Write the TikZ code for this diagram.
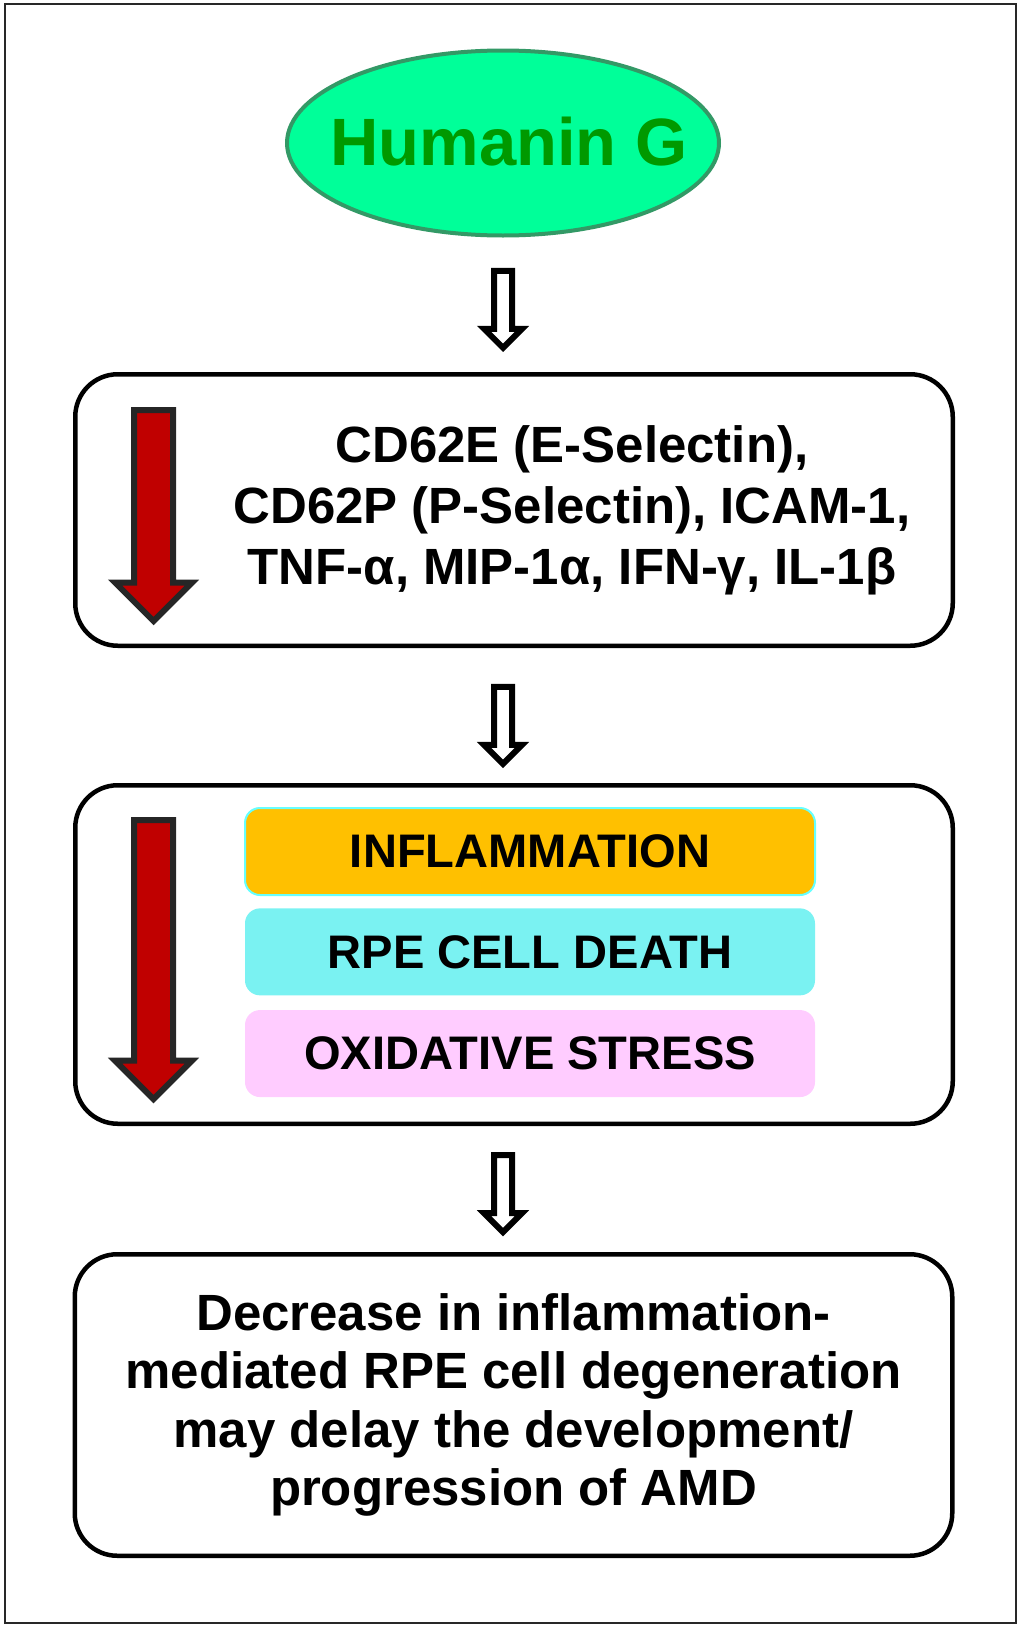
\documentclass[tikz,border=0pt]{standalone}
\usepackage{fontspec}
\setmainfont{Liberation Sans}
\usepackage{xcolor}
\usetikzlibrary{shapes.geometric, shapes.arrows, positioning}
\definecolor{hgfill}{RGB}{0,255,153}
\definecolor{hgline}{RGB}{51,153,102}
\definecolor{hgtext}{RGB}{0,153,0}
\definecolor{downred}{RGB}{192,0,0}
\definecolor{downline}{RGB}{38,38,38}
\definecolor{inflbg}{RGB}{255,192,0}
\definecolor{inflline}{RGB}{102,255,255}
\definecolor{rpebg}{RGB}{122,242,242}
\definecolor{oxbg}{RGB}{255,204,255}
\definecolor{framecol}{RGB}{40,40,40}

\begin{document}
\begin{tikzpicture}[
    panel/.style={rectangle, rounded corners=0.85cm, draw, line width=0.09cm, minimum width=17.55cm, align=center},
    bar/.style={rectangle, rounded corners=0.3cm, minimum width=11.4cm, minimum height=1.74cm, font=\bfseries\fontsize{26.8}{30}\selectfont},
    flowarrow/.style={single arrow, draw, line width=0.12cm, fill=white, rotate=-90, minimum height=1.54cm, minimum width=0.64cm, inner sep=0.12cm, single arrow head extend=0.2cm, single arrow tip angle=90},
    downarrow/.style={single arrow, draw=downline, fill=downred, line width=0.12cm, rotate=-90, minimum width=1.42cm, inner sep=0.33cm, single arrow head extend=0.38cm, single arrow tip angle=90}
]
\useasboundingbox (0,0) rectangle (20.4,-32.56);
\draw[framecol, line width=0.04cm] (0.1,-0.08) rectangle (20.32,-32.46);

\node[ellipse, draw=hgline, fill=hgfill, line width=0.08cm, minimum width=8.64cm, minimum height=3.7cm] (hg) at (10.06,-2.86) {};
\node[text=hgtext, font=\bfseries\fontsize{38.1}{45}\selectfont] (hgt) at (10.18,-2.83) {Humanin G};

\node[panel, minimum height=5.43cm] (b1) at (10.28,-10.2) {};
\node[align=center, font=\bfseries\fontsize{29}{34.7}\selectfont] (b1t) at (11.44,-10.2) {CD62E (E-Selectin),\\CD62P (P-Selectin), ICAM-1,\\TNF-α, MIP-1α, IFN-γ, IL-1β};
\node[downarrow, minimum height=4.22cm, anchor=tail] (r1) at (3.07,-8.14) {};

\node[panel, minimum height=6.77cm] (b2) at (10.28,-19.09) {};
\node[downarrow, minimum height=5.58cm, anchor=tail] (r2) at (3.07,-16.34) {};
\node[bar, fill=inflbg, draw=inflline, line width=0.04cm] (infl) at (10.6,-17.03) {INFLAMMATION};
\node[bar, fill=rpebg, below=0.24cm of infl] (rpe) {RPE CELL DEATH};
\node[bar, fill=oxbg, below=0.28cm of rpe] (ox) {OXIDATIVE STRESS};

\node[panel, minimum height=6.03cm, font=\bfseries\fontsize{29}{33.3}\selectfont] (b3) at (10.27,-28.1) {Decrease in inflammation-\\mediated RPE cell degeneration\\may delay the development/\\progression of AMD};

\path (hg.south) -- node[flowarrow] (f1) {} (hg.south |- b1.north);
\path (b1.south -| hg.south) -- node[flowarrow, pos=0.54] (f2) {} (hg.south |- b2.north);
\path (b2.south -| hg.south) -- node[flowarrow] (f3) {} (hg.south |- b3.north);

\end{tikzpicture}
\end{document}
